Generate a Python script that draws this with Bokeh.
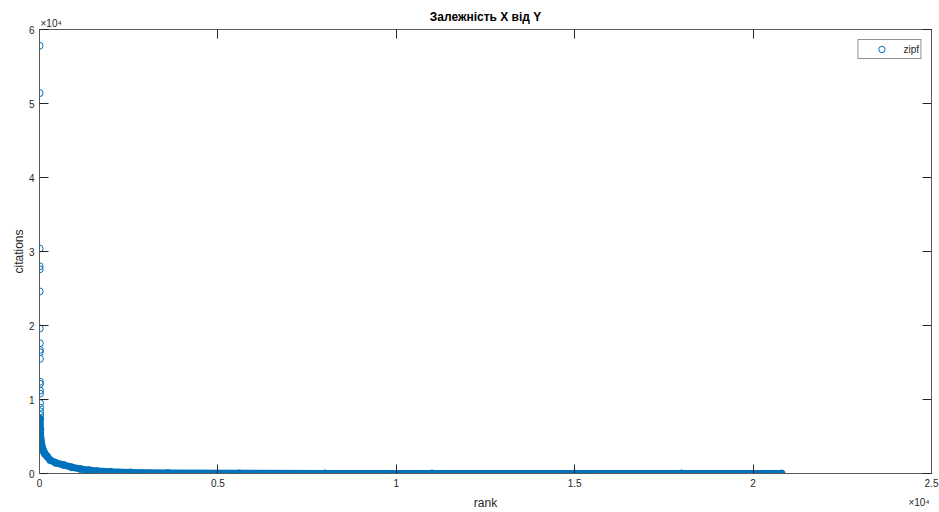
from bokeh.plotting import figure
from bokeh.models import Range1d, LinearAxis, FixedTicker, Title, Legend, LegendItem, ColumnDataSource
from bokeh.embed import file_html
from bokeh.resources import INLINE

# ---- data (rank vs citations, Zipf-like) ----
top_ranks = [1, 2, 3, 4, 5, 6, 7, 8, 9, 10, 11, 12, 13, 14, 15, 16, 17, 18, 19]
top_citations = [57800, 51400, 30400, 28000, 27600, 24600, 19600, 17600, 16700,
                 16400, 15500, 12400, 12100, 11200, 10800, 9500, 8900, 8400, 7900]

tail_ranks = [20, 26, 34, 46, 62, 80, 104, 130, 160, 216, 300, 450, 675, 900, 1140,
              1400, 1610, 2000, 2550, 3600, 5600, 8000, 11000, 15000, 18000, 20800]
tail_citations = [7400, 6000, 4700, 4200, 3800, 3400, 3100, 2850, 2600, 2300, 1800,
                  1450, 1150, 850, 620, 450, 330, 230, 150, 60, 20, 12, 9, 7, 6, 5]

x_ticks = [0, 5000, 10000, 15000, 20000, 25000]
x_tick_labels = ["0", "0.5", "1", "1.5", "2", "2.5"]
y_ticks = [0, 10000, 20000, 30000, 40000, 50000, 60000]
y_tick_labels = ["0", "1", "2", "3", "4", "5", "6"]
exponent_text = "×10⁴"
x_exponent_pos = 24650   # where the x multiplier sits (right end of the x axis)

FONT = "Liberation Sans"
BLUE = "#0072BD"
AXC = "#5a5a5a"
TXC = "#262626"

p = figure(width=939, height=512, output_backend="svg", toolbar_location=None,
           x_range=Range1d(0, 25000), y_range=Range1d(0, 60000),
           min_border_left=39, min_border_right=8, min_border_top=29, min_border_bottom=37,
           x_axis_label="rank", y_axis_label="citations",
           title="Залежність X від Y")
p.grid.visible = False
p.outline_line_color = None
p.background_fill_color = "white"
p.border_fill_color = "white"

p.title.text_font = FONT
p.title.text_font_size = "12px"
p.title.text_font_style = "bold"
p.title.text_color = "#000000"
p.title.align = "center"
p.title.standoff = -16
p.title.offset = 0


def style_axis(ax, ticks, labels, show_labels=True):
    ax.ticker = FixedTicker(ticks=ticks)
    ax.major_label_overrides = {t: (l if show_labels else "") for t, l in zip(ticks, labels)}
    ax.major_tick_in = 9
    ax.major_tick_out = 0
    ax.minor_tick_in = 0
    ax.minor_tick_out = 0
    ax.major_tick_line_color = TXC
    ax.axis_line_color = AXC
    ax.axis_line_width = 1
    ax.major_label_text_font = FONT
    ax.major_label_text_font_size = "10px" if show_labels else "0px"
    ax.major_label_text_color = TXC
    ax.major_label_standoff = 5 if show_labels else 0
    ax.axis_label_text_font = FONT
    ax.axis_label_text_font_size = "12px"
    ax.axis_label_text_font_style = "normal"
    ax.axis_label_text_color = TXC
    ax.axis_label_standoff = 6


style_axis(p.xaxis[0], x_ticks, x_tick_labels)
style_axis(p.yaxis[0], y_ticks, y_tick_labels)
p.yaxis[0].axis_label_standoff = 0

top_ax = LinearAxis()
style_axis(top_ax, x_ticks, x_tick_labels, show_labels=False)
p.add_layout(top_ax, "above")
right_ax = LinearAxis()
style_axis(right_ax, y_ticks, y_tick_labels, show_labels=False)
p.add_layout(right_ax, "right")

# y multiplier (top-left, MATLAB-style)
p.add_layout(Title(text=exponent_text, align="left", offset=1, standoff=1,
                   text_font=FONT, text_font_size="10px", text_font_style="normal",
                   text_color=TXC), "above")

# x multiplier (bottom-right): label-only axis stacked under the x axis
exp_ax = LinearAxis(ticker=FixedTicker(ticks=[x_exponent_pos]),
                    major_label_overrides={x_exponent_pos: exponent_text})
exp_ax.axis_line_color = None
exp_ax.major_tick_line_color = None
exp_ax.minor_tick_line_color = None
exp_ax.major_tick_in = 0
exp_ax.major_tick_out = 0
exp_ax.major_label_standoff = -16
exp_ax.major_label_text_font = FONT
exp_ax.major_label_text_font_size = "10px"
exp_ax.major_label_text_color = TXC
p.add_layout(exp_ax, "below")

# dense tail drawn as a thick band (overlapping markers)
tail_src = ColumnDataSource(dict(x=tail_ranks, y=tail_citations))
p.line("x", "y", source=tail_src, line_color=BLUE, line_width=7,
       line_cap="round", line_join="round")

all_src = ColumnDataSource(dict(x=top_ranks + tail_ranks, y=top_citations + tail_citations))
sc = p.scatter("x", "y", source=all_src, marker="circle", size=7,
               fill_color=None, line_color=BLUE, line_width=1)

legend = Legend(items=[LegendItem(label="zipf", renderers=[sc])],
                location="top_right", margin=10, padding=1, spacing=0,
                glyph_width=44, glyph_height=16, label_height=16, label_width=15,
                label_standoff=0,
                border_line_color=TXC, border_line_width=1,
                background_fill_color="white", background_fill_alpha=1,
                label_text_font=FONT, label_text_font_size="10px", label_text_color=TXC)
p.add_layout(legend)

open("out.html", "w").write(file_html(p, INLINE))
